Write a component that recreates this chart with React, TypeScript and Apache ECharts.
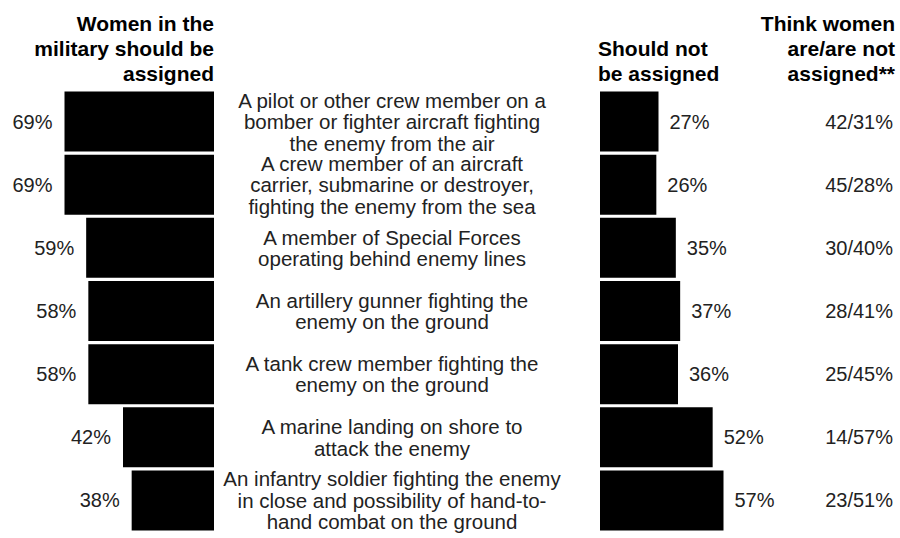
import React, { useEffect, useRef } from "react";
import * as echarts from "echarts";

const categories = [
  "A pilot or other crew member on a\nbomber or fighter aircraft fighting\nthe enemy from the air",
  "A crew member of an aircraft\ncarrier, submarine or destroyer,\nfighting the enemy from the sea",
  "A member of Special Forces\noperating behind enemy lines",
  "An artillery gunner fighting the\nenemy on the ground",
  "A tank crew member fighting the\nenemy on the ground",
  "A marine landing on shore to\nattack the enemy",
  "An infantry soldier fighting the enemy\nin close and possibility of hand-to-\nhand combat on the ground",
];
const shouldBeAssigned = [69, 69, 59, 58, 58, 42, 38];
const shouldNotBeAssigned = [27, 26, 35, 37, 36, 52, 57];
const thinkAreAreNot = ["42/31%", "45/28%", "30/40%", "28/41%", "25/45%", "14/57%", "23/51%"];

const FONT = "Liberation Sans";
const TXT = "#222222";

export default function App() {
  const ref = useRef<HTMLDivElement>(null);
  useEffect(() => {
    if (!ref.current) return;
    const chart = echarts.init(ref.current, null, { renderer: "svg" });
    const top = 90;
    const bottom = 6;
    chart.setOption({
      animation: false,
      backgroundColor: "#ffffff",
      textStyle: { fontFamily: FONT, color: TXT },
      grid: [
        { left: 19, width: 195, top, bottom },
        { left: 600, width: 195, top, bottom },
      ],
      xAxis: [
        { gridIndex: 0, type: "value", min: 0, max: 90, inverse: true, show: false },
        { gridIndex: 1, type: "value", min: 0, max: 90, show: false },
      ],
      yAxis: [
        {
          gridIndex: 0,
          type: "category",
          data: categories,
          inverse: true,
          show: false,
        },
        {
          gridIndex: 1,
          type: "category",
          data: categories,
          inverse: true,
          position: "left",
          axisLine: { show: false },
          axisTick: { show: false },
          axisLabel: {
            interval: 0,
            hideOverlap: false,
            margin: 208,
            align: "center",
            verticalAlign: "middle",
            fontFamily: FONT,
            fontSize: 20.5,
            lineHeight: 21.5,
            color: TXT,
          },
        },
        {
          gridIndex: 1,
          type: "category",
          data: thinkAreAreNot,
          inverse: true,
          position: "right",
          axisLine: { show: false },
          axisTick: { show: false },
          axisLabel: {
            interval: 0,
            align: "right",
            margin: 98,
            fontFamily: FONT,
            fontSize: 20,
            color: TXT,
          },
        },
      ],
      series: [
        {
          type: "bar",
          xAxisIndex: 0,
          yAxisIndex: 0,
          data: shouldBeAssigned,
          barCategoryGap: "5%",
          itemStyle: { color: "#000" },
          label: {
            show: true,
            position: "left",
            distance: 12,
            formatter: "{c}%",
            fontFamily: FONT,
            fontSize: 20,
            color: TXT,
          },
        },
        {
          type: "bar",
          xAxisIndex: 1,
          yAxisIndex: 1,
          data: shouldNotBeAssigned,
          barCategoryGap: "5%",
          itemStyle: { color: "#000" },
          label: {
            show: true,
            position: "right",
            distance: 11,
            formatter: "{c}%",
            fontFamily: FONT,
            fontSize: 20,
            color: TXT,
          },
        },
      ],
      graphic: [
        {
          type: "text",
          right: 686,
          top: 11,
          style: {
            text: "Women in the\nmilitary should be\nassigned",
            font: `bold 21px "${FONT}"`,
            lineHeight: 25,
            textAlign: "right",
            fill: "#000",
          },
        },
        {
          type: "text",
          left: 598,
          top: 36,
          style: {
            text: "Should not\nbe assigned",
            font: `bold 21px "${FONT}"`,
            lineHeight: 25,
            textAlign: "left",
            fill: "#000",
          },
        },
        {
          type: "text",
          right: 5,
          top: 11,
          style: {
            text: "Think women\nare/are not\nassigned**",
            font: `bold 21px "${FONT}"`,
            lineHeight: 25,
            textAlign: "right",
            fill: "#000",
          },
        },
      ],
    });
    return () => chart.dispose();
  }, []);
  return <div ref={ref} style={{ width: 900, height: 538, position: "absolute", left: 0, top: 0 }} />;
}
